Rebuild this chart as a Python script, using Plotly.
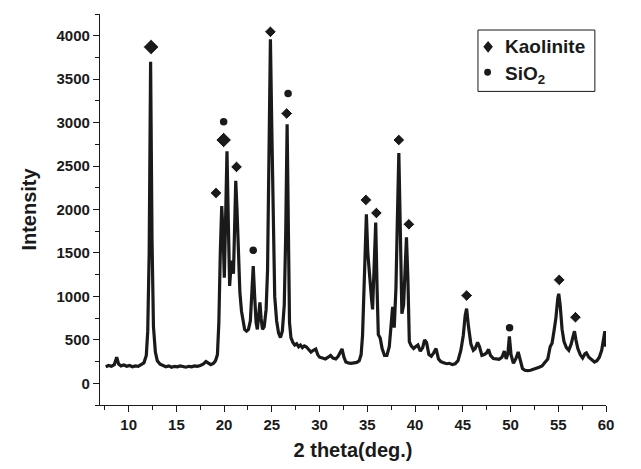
import plotly.graph_objects as go

two_theta = [7.6, 7.9, 8.2, 8.5, 8.75, 8.95, 9.2, 9.5, 9.8, 10.1, 10.4, 10.7, 11.0, 11.3, 11.6,
             11.85, 12.0, 12.15, 12.3, 12.45, 12.6, 12.8, 13.0, 13.3, 13.6, 13.9, 14.2, 14.5, 14.8,
             15.1, 15.4, 15.7, 16.0, 16.3, 16.6, 16.9, 17.2, 17.5, 17.8, 18.1, 18.3, 18.6, 18.9,
             19.1, 19.3, 19.45, 19.6, 19.75, 19.9, 20.02, 20.12, 20.3, 20.45, 20.58, 20.72, 20.85,
             20.98, 21.1, 21.22, 21.35, 21.5, 21.65, 21.82, 22.0, 22.15, 22.35, 22.55, 22.75, 22.9,
             23.05, 23.2, 23.35, 23.48, 23.62, 23.75, 23.88, 24.02, 24.2, 24.4, 24.55, 24.7, 24.85,
             25.0, 25.15, 25.3, 25.5, 25.7, 25.9, 26.1, 26.3, 26.45, 26.6, 26.72, 26.85, 27.0, 27.2,
             27.4, 27.6, 27.8, 28.0, 28.2, 28.4, 28.6, 28.85, 29.1, 29.35, 29.6, 29.8, 30.0, 30.3,
             30.6, 30.9, 31.15, 31.4, 31.7, 31.95, 32.2, 32.35, 32.55, 32.75, 33.0, 33.3, 33.6, 33.9,
             34.15, 34.35, 34.5, 34.65, 34.9, 35.05, 35.2, 35.32, 35.45, 35.55, 35.7, 35.88, 36.02,
             36.15, 36.35, 36.55, 36.8, 37.05, 37.3, 37.45, 37.65, 37.82, 38.0, 38.15, 38.3, 38.45,
             38.62, 38.8, 38.95, 39.1, 39.25, 39.4, 39.6, 39.85, 40.05, 40.3, 40.55, 40.8, 41.0,
             41.2, 41.45, 41.7, 41.95, 42.2, 42.45, 42.7, 43.0, 43.3, 43.6, 43.9, 44.2, 44.5, 44.8,
             45.05, 45.25, 45.4, 45.6, 45.85, 46.1, 46.3, 46.55, 46.75, 47.0, 47.25, 47.5, 47.7,
             47.9, 48.2, 48.5, 48.8, 49.1, 49.35, 49.55, 49.72, 49.88, 50.05, 50.3, 50.55, 50.8,
             51.0, 51.25, 51.5, 51.8, 52.1, 52.4, 52.7, 53.0, 53.3, 53.6, 53.9, 54.15, 54.35, 54.55,
             54.75, 54.95, 55.05, 55.2, 55.4, 55.6, 55.85, 56.1, 56.35, 56.55, 56.7, 56.85, 57.05,
             57.3, 57.55, 57.8, 57.95, 58.2, 58.5, 58.8, 59.05, 59.3, 59.55, 59.75, 59.88, 59.97, 60.0]

intensity = [190, 205, 195, 215, 300, 220, 200, 210, 195, 205, 190, 200, 195, 210, 235,
             320, 600, 1500, 3700, 1650, 650, 360, 260, 220, 200, 190, 200, 185, 195,
             190, 200, 190, 185, 195, 190, 200, 195, 205, 220, 250, 235, 215, 230,
             260, 330, 700, 1500, 2040, 1700, 1215, 1700, 2670, 1800, 1120, 1350, 1410,
             1260, 1700, 2330, 2000, 1500, 1050, 830, 680, 620, 600, 620, 720, 1000,
             1350, 1000, 700, 620, 800, 930, 740, 620, 650, 850, 1300, 2500, 3960,
             2900, 1600, 1000, 720, 580, 525, 600, 900, 1700, 2980, 1500, 700, 525, 470,
             440, 455, 420, 440, 410, 430, 420, 390, 360, 380, 395, 330, 300, 290,
             280, 300, 320, 290, 280, 310, 360, 395, 300, 245, 235, 230, 235, 240,
             260, 330, 550, 1000, 1945, 1500, 1260, 1150, 960, 850, 1300, 1850, 1100,
             560, 520, 400, 320, 320, 420, 580, 880, 640, 1100, 1900, 2650, 1800,
             800, 900, 1400, 1680, 1200, 480, 430, 400, 420, 440, 370, 410, 500,
             470, 330, 310, 350, 400, 280, 250, 235, 225, 230, 215, 225, 260, 380,
             550, 780, 860, 650, 450, 380, 400, 470, 420, 320, 330, 350, 390,
             320, 285, 280, 275, 300, 370, 280, 340, 540, 330, 230, 280, 360,
             260, 170, 150, 145, 150, 160, 175, 185, 200, 240, 280, 420, 460, 600,
             750, 980, 1030, 900, 620, 480, 410, 380, 450, 540, 600, 500, 400,
             330, 290, 340, 350, 300, 270, 245, 260, 300, 380, 550, 600, 450, 420]

kaolinite_x = [12.35, 19.15, 19.95, 21.3, 24.85, 26.55, 34.85, 35.95, 38.3, 39.35, 45.4, 55.1, 56.8]
kaolinite_y = [3870, 2190, 2800, 2490, 4045, 3105, 2110, 1960, 2800, 1830, 1010, 1190, 760]
kaolinite_size = [12, 9, 12, 9, 9, 9, 9, 9, 9, 9, 9, 9, 9]

sio2_x = [19.95, 23.05, 26.7, 49.9]
sio2_y = [3010, 1530, 3335, 640]

legend_labels = ["<b>Kaolinite</b>", "<b>SiO<sub>2</sub></b>"]

x_ticks = [10, 15, 20, 25, 30, 35, 40, 45, 50, 55, 60]
y_ticks = [0, 500, 1000, 1500, 2000, 2500, 3000, 3500, 4000]

INK = "#1a1a1a"
FAMILY = "Arial, Liberation Sans, sans-serif"

fig = go.Figure()
fig.add_trace(go.Scatter(x=two_theta, y=intensity, mode="lines",
                         line=dict(color=INK, width=3.2), showlegend=False,
                         hoverinfo="skip"))
fig.add_trace(go.Scatter(x=kaolinite_x, y=kaolinite_y, mode="markers", name="Kaolinite",
                         marker=dict(symbol="diamond", size=kaolinite_size, color=INK, opacity=1),
                         showlegend=False))
fig.add_trace(go.Scatter(x=sio2_x, y=sio2_y, mode="markers", name="SiO2",
                         marker=dict(symbol="circle", size=7.5, color=INK, opacity=1),
                         showlegend=False))

axis_font = dict(family=FAMILY, size=15, color=INK, weight="bold")
title_font = dict(family=FAMILY, size=20, color=INK, weight="bold")

# custom legend box (paper coordinates)
box = dict(x0=0.747, x1=0.978, y0=0.802, y1=0.959)
shapes = [
    dict(type="rect", xref="paper", yref="paper", x0=box["x0"], x1=box["x1"],
         y0=box["y0"], y1=box["y1"], line=dict(color=INK, width=1), fillcolor="white", layer="above"),
]
# diamond symbol
dx, dy = 0.0095, 0.0150
cx, cy = 0.767, 0.916
shapes.append(dict(type="path", xref="paper", yref="paper",
                   path=f"M {cx-dx},{cy} L {cx},{cy+dy} L {cx+dx},{cy} L {cx},{cy-dy} Z",
                   fillcolor=INK, line=dict(color=INK, width=0), layer="above"))
# circle symbol
rx, ry = 0.0068, 0.0088
ccx, ccy = 0.766, 0.851
shapes.append(dict(type="circle", xref="paper", yref="paper",
                   x0=ccx-rx, x1=ccx+rx, y0=ccy-ry, y1=ccy+ry,
                   fillcolor=INK, line=dict(color=INK, width=0), layer="above"))

annotations = [
    dict(text=legend_labels[0], xref="paper", yref="paper", x=0.797, y=0.916,
         xanchor="left", yanchor="middle", showarrow=False,
         font=dict(family=FAMILY, size=19, color=INK)),
    dict(text=legend_labels[1], xref="paper", yref="paper", x=0.797, y=0.845,
         xanchor="left", yanchor="middle", showarrow=False,
         font=dict(family=FAMILY, size=19, color=INK)),
]

fig.update_layout(
    width=641, height=469,
    margin=dict(l=100, r=35, t=14, b=62),
    paper_bgcolor="white", plot_bgcolor="white",
    showlegend=False,
    shapes=shapes, annotations=annotations,
    xaxis=dict(range=[7, 60], tickvals=x_ticks, ticks="outside", ticklen=6, tickwidth=1.2,
               tickcolor=INK, showline=True, linecolor=INK, linewidth=1.2,
               showgrid=False, zeroline=False, tickfont=axis_font,
               minor=dict(dtick=2.5, tick0=0, ticks="outside", ticklen=4, tickcolor=INK, tickwidth=1.2),
               title=dict(text="2 theta(deg.)", font=title_font, standoff=10)),
    yaxis=dict(range=[-250, 4250], tickvals=y_ticks, ticks="outside", ticklen=6, tickwidth=1.2,
               tickcolor=INK, showline=True, linecolor=INK, linewidth=1.2,
               showgrid=False, zeroline=False, tickfont=axis_font,
               minor=dict(dtick=250, tick0=0, ticks="outside", ticklen=4, tickcolor=INK, tickwidth=1.2),
               title=dict(text="Intensity", font=title_font, standoff=14)),
)

fig.write_html("out.html")
